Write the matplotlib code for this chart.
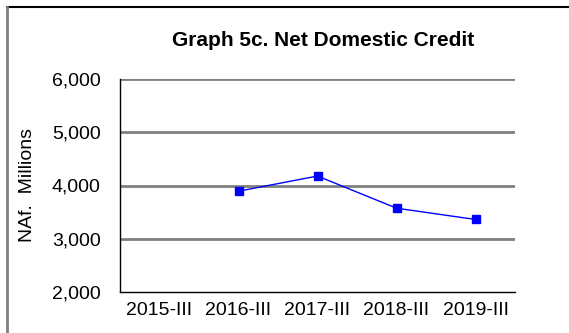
import matplotlib
matplotlib.use("Agg")
import matplotlib.pyplot as plt
from matplotlib.lines import Line2D
from matplotlib.ticker import FuncFormatter

plt.rcParams['font.family'] = ['Liberation Sans', 'DejaVu Sans']

categories = ["2015-III", "2016-III", "2017-III", "2018-III", "2019-III"]
credit = [None, 3893, 4178, 3574, 3362]
y_ticks = [2000, 3000, 4000, 5000, 6000]

W, H, DPI = 569, 333, 100
fig = plt.figure(figsize=(W / DPI, H / DPI), dpi=DPI)
fig.patch.set_facecolor("white")

# plot area in pixels: left 120, right 515, top 79, bottom 292
ax = fig.add_axes([120 / W, 1 - 292 / H, (515 - 120) / W, (292 - 79) / H])

xs = [i for i, v in enumerate(credit) if v is not None]
ys = [v for v in credit if v is not None]
ax.plot(xs, ys, color="#0000FF", linewidth=1.0, marker="s", markersize=6,
        markerfacecolor="#0000FF", markeredgecolor="#0000FF", zorder=3)

ax.set_xlim(-0.5, len(categories) - 0.5)
ax.set_ylim(2000, 6000)
ax.set_xticks(range(len(categories)))
ax.set_xticklabels(categories)
ax.set_yticks(y_ticks)
ax.yaxis.set_major_formatter(FuncFormatter(lambda v, p: f"{int(v):,}"))
ax.tick_params(axis="both", length=0, labelsize=14, colors="black")
ax.tick_params(axis="y", pad=14)
ax.tick_params(axis="x", pad=7)

for v in y_ticks[1:]:
    ax.axhline(v, color="#808080", linewidth=2.0, zorder=1)

for side in ("top", "right"):
    ax.spines[side].set_visible(False)
for side in ("left", "bottom"):
    ax.spines[side].set_color("black")
    ax.spines[side].set_linewidth(1.0)
    ax.spines[side].set_zorder(2)

ax.set_ylabel("NAf.  Millions", fontsize=14)
ax.yaxis.set_label_coords(-(120 - 36) / (515 - 120), 0.5)

fig.text(323 / W, 1 - 41 / H, "Graph 5c. Net Domestic Credit", ha="center",
         va="center", fontsize=15, fontweight="bold")

# outer frame: dark top edge, grey left edge
fig.add_artist(Line2D([7 / W, 1], [1 - 7 / H, 1 - 7 / H], color="black",
                      linewidth=1.5, transform=fig.transFigure))
fig.add_artist(Line2D([7 / W, 7 / W], [0, 1 - 7 / H], color="#808080",
                      linewidth=2.0, transform=fig.transFigure))

fig.savefig("out.png", dpi=DPI, facecolor="white")
